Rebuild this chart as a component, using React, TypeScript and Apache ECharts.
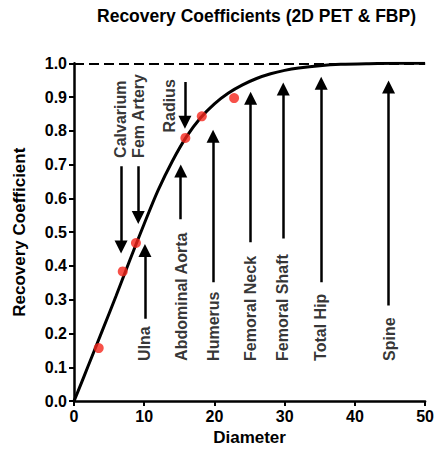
import React, { useEffect, useRef } from "react";
import * as echarts from "echarts";

const titleText = "Recovery Coefficients (2D PET & FBP)";
const xAxisName = "Diameter";
const yAxisName = "Recovery Coefficient";

// Fitted recovery curve
const curveX = [0, 1, 2, 4, 6, 8, 10, 12, 14, 16, 18, 20, 22, 24, 26, 28, 30, 32, 35, 38, 42, 46, 50];
const curveY = [0, 0.051, 0.103, 0.207, 0.312, 0.42, 0.525, 0.625, 0.71, 0.782, 0.838, 0.88, 0.912, 0.936, 0.955, 0.969, 0.979, 0.986, 0.993, 0.997, 0.999, 1, 1];

// Measured points
const pointX = [3.52, 6.94, 8.82, 15.86, 18.2, 22.8];
const pointY = [0.157, 0.384, 0.468, 0.779, 0.843, 0.897];

// Arrows: x, tail value, tip value
const arrowX = [6.7, 9.15, 15.8, 15.2, 10.1, 19.8, 25.15, 29.8, 35.2, 44.8];
const arrowFrom = [0.695, 0.695, 0.945, 0.538, 0.244, 0.352, 0.47, 0.481, 0.352, 0.283];
const arrowTo = [0.437, 0.524, 0.806, 0.7, 0.465, 0.803, 0.916, 0.943, 0.96, 0.949];

// Site labels
const labelNames = ["Calvarium", "Fem Artery", "Radius", "Abdominal Aorta", "Ulna", "Humerus", "Femoral Neck", "Femoral Shaft", "Total Hip", "Spine"];
const labelX = [6.65, 9.15, 13.6, 15.3, 10.1, 19.9, 25.2, 29.7, 35.1, 44.9];
const labelY = [0.72, 0.72, 0.795, 0.119, 0.119, 0.119, 0.119, 0.119, 0.119, 0.119];

const FONT = "'Liberation Sans', Arial, Helvetica, sans-serif";

export default function App() {
  const ref = useRef<HTMLDivElement>(null);
  useEffect(() => {
    if (!ref.current) return;
    const chart = echarts.init(ref.current, undefined, { renderer: "svg" });
    const plotH = 339.4;
    const headHalf = 6.5 / plotH;
    const arrowData = arrowX.map((x, i) => {
      const dir = arrowTo[i] > arrowFrom[i] ? 1 : -1;
      return { coords: [[x, arrowFrom[i]], [x, arrowTo[i] - dir * headHalf]] };
    });
    chart.setOption({
      animation: false,
      title: {
        text: titleText,
        left: 251.5,
        top: 2,
        textAlign: "center",
        textStyle: { fontFamily: FONT, fontWeight: "bold", fontSize: 17.5, color: "#000" },
      },
      grid: { left: 74, right: 8, top: 63.3, bottom: 48.3, containLabel: false },
      xAxis: {
        type: "value",
        min: 0,
        max: 50,
        interval: 10,
        name: xAxisName,
        nameLocation: "middle",
        nameGap: 27,
        nameTextStyle: { fontFamily: FONT, fontWeight: "bold", fontSize: 17, color: "#000" },
        axisLine: { show: true, lineStyle: { color: "#000", width: 2.5 } },
        axisTick: { show: true, length: 5, lineStyle: { color: "#000", width: 2 } },
        axisLabel: { fontFamily: FONT, fontWeight: "bold", fontSize: 16, color: "#000", margin: 7 },
        splitLine: { show: false },
      },
      yAxis: {
        type: "value",
        min: 0,
        max: 1,
        interval: 0.1,
        name: yAxisName,
        nameLocation: "middle",
        nameGap: 46,
        nameRotate: 90,
        nameTextStyle: { fontFamily: FONT, fontWeight: "bold", fontSize: 17, color: "#000" },
        axisLine: { show: true, lineStyle: { color: "#000", width: 2.5 } },
        axisTick: { show: true, length: 5, lineStyle: { color: "#000", width: 2 } },
        axisLabel: {
          fontFamily: FONT,
          fontWeight: "bold",
          fontSize: 16,
          color: "#000",
          margin: 7,
          formatter: (v: number) => v.toFixed(1),
        },
        splitLine: { show: false },
      },
      series: [
        {
          type: "line",
          data: curveX.map((x, i) => [x, curveY[i]]),
          smooth: 0.3,
          showSymbol: false,
          symbol: "none",
          lineStyle: { color: "#000", width: 3 },
          z: 3,
          markLine: {
            silent: true,
            symbol: "none",
            label: { show: false },
            lineStyle: { color: "#000", width: 2.2, type: [10, 5] },
            data: [{ yAxis: 1 }],
          },
        },
        {
          type: "lines",
          coordinateSystem: "cartesian2d",
          polyline: false,
          symbol: ["none", "triangle"],
          symbolSize: [10, 13],
          lineStyle: { color: "#000", width: 2.5, opacity: 1 },
          data: arrowData,
          z: 4,
        },
        {
          type: "scatter",
          data: pointX.map((x, i) => [x, pointY[i]]),
          symbol: "circle",
          symbolSize: 10,
          itemStyle: { color: "#f5261c" },
          z: 5,
        },
        {
          type: "scatter",
          data: labelX.map((x, i) => ({ value: [x, labelY[i]], name: labelNames[i] })),
          symbolSize: 1,
          itemStyle: { color: "transparent" },
          silent: true,
          z: 6,
          label: {
            show: true,
            position: "inside",
            rotate: 90,
            align: "left",
            verticalAlign: "middle",
            formatter: (p: any) => p.name,
            fontFamily: FONT,
            fontWeight: "bold",
            fontSize: 16,
            color: "#000",
          },
        },
      ],
    });
    return () => chart.dispose();
  }, []);
  return (
    <div
      ref={ref}
      style={{ position: "fixed", left: 0, top: 0, width: 437, height: 451, background: "#fff" }}
    />
  );
}
